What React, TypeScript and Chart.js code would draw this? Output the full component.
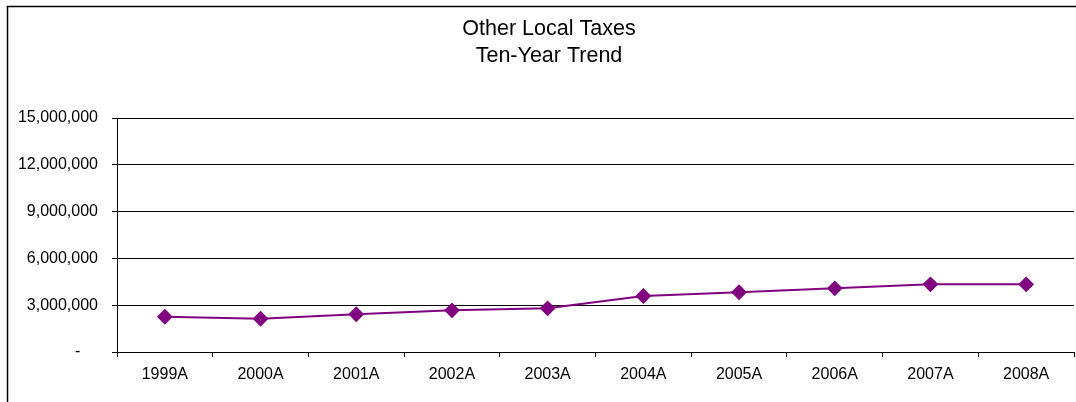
import React, { useEffect, useRef } from "react";
import { Chart, registerables } from "chart.js";

Chart.register(...registerables);

const titleLines = ["Other Local Taxes", "Ten-Year Trend"];
const categories = ["1999A", "2000A", "2001A", "2002A", "2003A", "2004A", "2005A", "2006A", "2007A", "2008A"];
const otherLocalTaxes = [2260000, 2130000, 2420000, 2670000, 2800000, 3590000, 3830000, 4080000, 4340000, 4340000];
const yMin = 0;
const yMax = 15000000;
const yStep = 3000000;

const FONT = "'Liberation Sans', Arial, sans-serif";

const frame = {
  id: "frame",
  afterLayout(chart: any) {
    const t = chart.titleBlock;
    if (t) {
      t.left = 24;
      t.width = t.right - t.left;
    }
  },
  afterDraw(chart: any) {
    const ctx = chart.ctx;
    ctx.save();
    ctx.strokeStyle = "#000";
    ctx.lineWidth = 1.5;
    ctx.beginPath();
    ctx.moveTo(7.5, chart.height);
    ctx.lineTo(7.5, 6.5);
    ctx.lineTo(chart.width, 6.5);
    ctx.stroke();
    ctx.restore();
  },
};

export default function App() {
  const ref = useRef<HTMLCanvasElement>(null);
  useEffect(() => {
    if (!ref.current) return;
    const chart = new Chart(ref.current, {
      type: "line",
      data: {
        labels: categories,
        datasets: [
          {
            label: "Other Local Taxes",
            data: otherLocalTaxes,
            borderColor: "#800080",
            backgroundColor: "#800080",
            borderWidth: 2,
            pointStyle: "rectRot",
            pointRadius: 6.5,
            pointHoverRadius: 6.5,
            pointBackgroundColor: "#800080",
            pointBorderColor: "#800080",
            tension: 0,
          },
        ],
      },
      options: {
        responsive: false,
        animation: false,
        layout: { autoPadding: false, padding: { left: 0, right: 2, top: 0, bottom: 0 } },
        plugins: {
          legend: { display: false },
          tooltip: { enabled: false },
          title: {
            display: true,
            text: titleLines,
            color: "#000",
            font: { family: FONT, size: 21.5, weight: "normal", lineHeight: 1.256 },
            padding: { top: 15.7, bottom: 48.3 },
          },
        },
        scales: {
          x: {
            offset: true,
            afterFit(scale: any) {
              scale.height = 50;
              scale.paddingLeft = 0;
              scale.paddingRight = 0;
            },
            grid: {
              offset: true,
              drawOnChartArea: false,
              drawTicks: true,
              tickLength: 5,
              color: "#000",
            },
            border: { display: true, color: "#000", width: 1 },
            ticks: {
              color: "#000",
              font: { family: FONT, size: 16 },
              padding: 8,
              maxRotation: 0,
            },
          },
          y: {
            min: yMin,
            max: yMax,
            afterFit(scale: any) {
              scale.width = 117;
            },
            grid: {
              color: "#000",
              lineWidth: 1,
              drawTicks: true,
              tickLength: 5,
            },
            border: { display: true, color: "#000", width: 1 },
            ticks: {
              stepSize: yStep,
              color: "#000",
              padding: 14,
              font: { family: FONT, size: 16 },
              callback: (v: any) =>
                Number(v) === 0 ? "-\u2007\u2007" : Number(v).toLocaleString("en-US"),
            },
          },
        },
      },
      plugins: [frame],
    });
    return () => chart.destroy();
  }, []);
  return (
    <div style={{ position: "absolute", left: 0, top: 0, width: 1076, height: 402, background: "#fff" }}>
      <canvas ref={ref} width={1076} height={402} style={{ width: 1076, height: 402, display: "block" }} />
    </div>
  );
}
